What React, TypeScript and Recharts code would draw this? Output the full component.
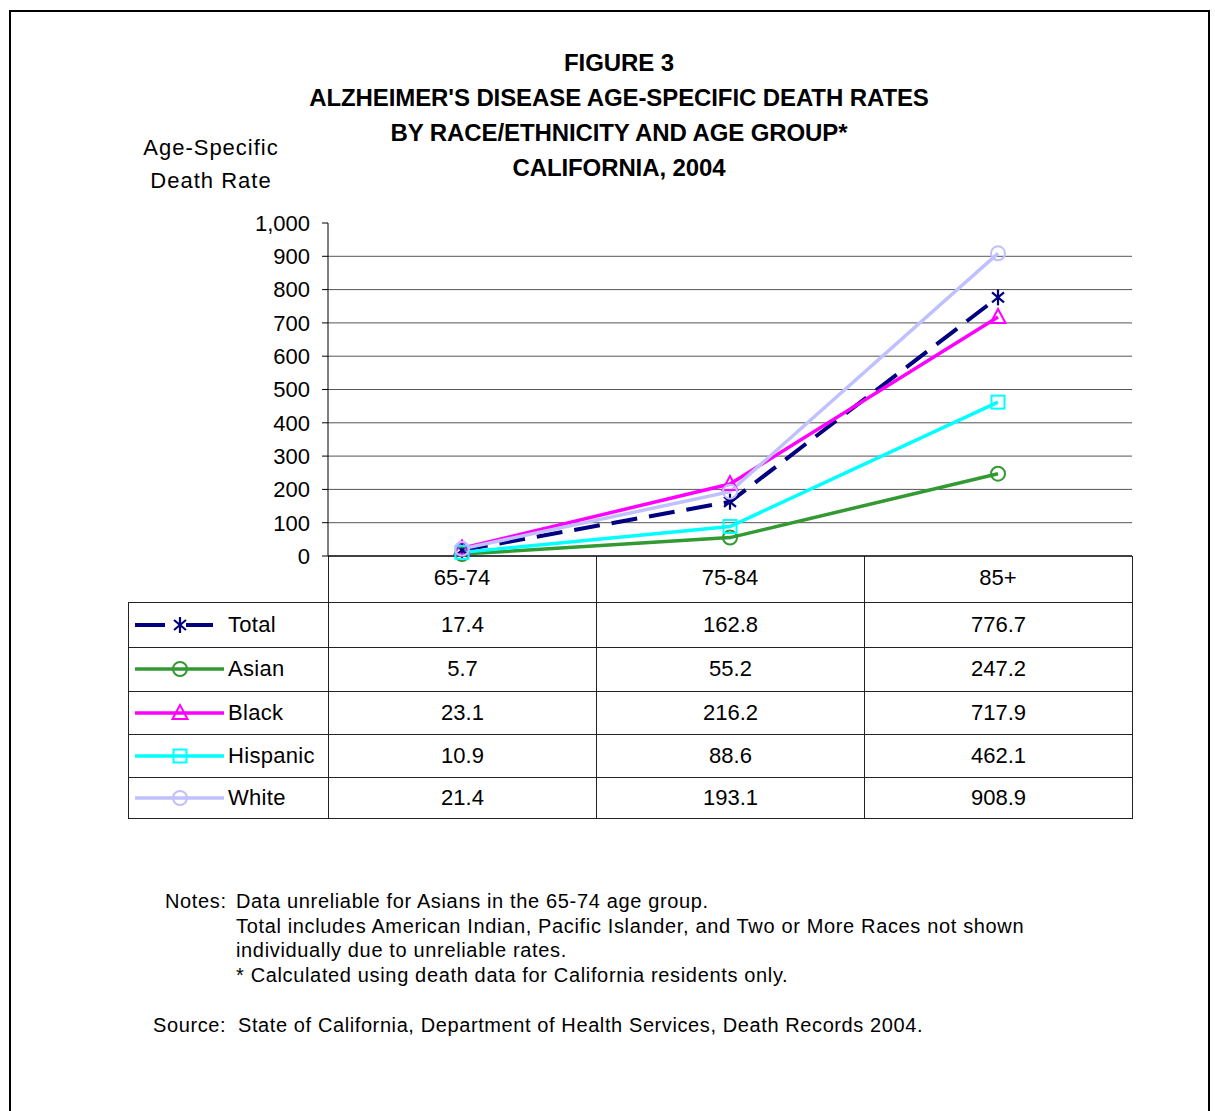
import React from 'react';
import { LineChart, Line, XAxis, YAxis, CartesianGrid } from 'recharts';

const categories = ['65-74', '75-84', '85+'];
const totalValues = [17.4, 162.8, 776.7];
const asianValues = [5.7, 55.2, 247.2];
const blackValues = [23.1, 216.2, 717.9];
const hispanicValues = [10.9, 88.6, 462.1];
const whiteValues = [21.4, 193.1, 908.9];
const yTicks = [0, 100, 200, 300, 400, 500, 600, 700, 800, 900, 1000];
const gridValues = [100, 200, 300, 400, 500, 600, 700, 800, 900];

const titleLines = [
  'FIGURE 3',
  "ALZHEIMER'S DISEASE AGE-SPECIFIC DEATH RATES",
  'BY RACE/ETHNICITY AND AGE GROUP*',
  'CALIFORNIA, 2004',
];
const yLabelLines = ['Age-Specific', 'Death Rate'];
const noteLines = [
  'Data unreliable for Asians in the 65-74 age group.',
  'Total includes American Indian, Pacific Islander, and Two or More Races not shown',
  'individually due to unreliable rates.',
  '* Calculated using death data for California residents only.',
];
const sourceText = 'State of California, Department of Health Services, Death Records 2004.';

type MarkerType = 'star' | 'circle' | 'triangle' | 'square';

const series: { key: string; values: number[]; color: string; dash?: string; width: number; marker: MarkerType }[] = [
  { key: 'Total', values: totalValues, color: '#000080', dash: '26 12', width: 4, marker: 'star' },
  { key: 'Asian', values: asianValues, color: '#339933', width: 3.5, marker: 'circle' },
  { key: 'Black', values: blackValues, color: '#FF00FF', width: 3.5, marker: 'triangle' },
  { key: 'Hispanic', values: hispanicValues, color: '#00FFFF', width: 3.5, marker: 'square' },
  { key: 'White', values: whiteValues, color: '#C0C0FF', width: 3.5, marker: 'circle' },
];

const data = categories.map((c, i) => {
  const row: Record<string, string | number> = { cat: c };
  series.forEach((s) => {
    row[s.key] = s.values[i];
  });
  return row;
});

const rowHeights = [45, 44, 43, 43, 41];

const FONT = '"Liberation Sans", Arial, Helvetica, sans-serif';

function Marker({ type, cx, cy, color }: { type: MarkerType; cx: number; cy: number; color: string }) {
  const sw = 2;
  if (type === 'star') {
    return (
      <g stroke={color} strokeWidth={2.2} fill="none">
        <line x1={cx} y1={cy - 8} x2={cx} y2={cy + 8} />
        <line x1={cx - 6} y1={cy - 5} x2={cx + 6} y2={cy + 5} />
        <line x1={cx + 6} y1={cy - 5} x2={cx - 6} y2={cy + 5} />
      </g>
    );
  }
  if (type === 'circle') {
    return <circle cx={cx} cy={cy} r={7} fill="none" stroke={color} strokeWidth={sw} />;
  }
  if (type === 'triangle') {
    return (
      <polygon
        points={`${cx},${cy - 8} ${cx - 7.5},${cy + 6} ${cx + 7.5},${cy + 6}`}
        fill="none"
        stroke={color}
        strokeWidth={sw}
      />
    );
  }
  return <rect x={cx - 6.5} y={cy - 6.5} width={13} height={13} fill="none" stroke={color} strokeWidth={sw} />;
}

function LegendIcon({ s }: { s: (typeof series)[number] }) {
  return (
    <svg width={92} height={22} style={{ display: 'block' }}>
      {s.dash ? (
        <>
          <line x1={2} y1={11} x2={32} y2={11} stroke={s.color} strokeWidth={s.width} />
          <line x1={53} y1={11} x2={80} y2={11} stroke={s.color} strokeWidth={s.width} />
        </>
      ) : (
        <line x1={2} y1={11} x2={91} y2={11} stroke={s.color} strokeWidth={s.width} />
      )}
      <Marker type={s.marker} cx={47} cy={11} color={s.color} />
    </svg>
  );
}

const border = '1px solid #222';

export default function App() {
  return (
    <div
      style={{
        position: 'absolute',
        left: 0,
        top: 0,
        width: 1215,
        height: 1111,
        overflow: 'hidden',
        background: '#fff',
        fontFamily: FONT,
        color: '#000',
      }}
    >
      <div
        style={{
          position: 'absolute',
          left: 9,
          top: 10,
          width: 1201,
          height: 1130,
          border: '2px solid #000',
          boxSizing: 'border-box',
        }}
      />
      {titleLines.map((t, i) => (
        <div
          key={t}
          style={{
            position: 'absolute',
            left: 0,
            width: 1238,
            top: 49 + i * 35,
            textAlign: 'center',
            fontWeight: 'bold',
            fontSize: 24,
            lineHeight: '28px',
            letterSpacing: -0.1,
            whiteSpace: 'nowrap',
          }}
        >
          {t}
        </div>
      ))}
      {yLabelLines.map((t, i) => (
        <div
          key={t}
          style={{
            position: 'absolute',
            left: 111,
            width: 200,
            top: 134 + i * 33,
            textAlign: 'center',
            fontSize: 22,
            lineHeight: '28px',
            letterSpacing: 1,
            whiteSpace: 'nowrap',
          }}
        >
          {t}
        </div>
      ))}

      <table
        style={{
          position: 'absolute',
          left: 128,
          top: 556,
          borderCollapse: 'collapse',
          tableLayout: 'fixed',
          width: 1005,
          fontSize: 22,
        }}
      >
        <colgroup>
          <col style={{ width: 200 }} />
          <col style={{ width: 268 }} />
          <col style={{ width: 268 }} />
          <col style={{ width: 268 }} />
        </colgroup>
        <tbody>
          <tr style={{ height: 46 }}>
            <td style={{ borderBottom: border, padding: 0 }} />
            {categories.map((c) => (
              <td key={c} style={{ borderLeft: border, borderRight: border, borderBottom: border, padding: 0 }} />
            ))}
          </tr>
          {series.map((s, ri) => (
            <tr key={s.key} style={{ height: rowHeights[ri] }}>
              <td style={{ border, padding: '0 0 0 4px' }}>
                <div style={{ display: 'flex', alignItems: 'center', gap: 3 }}>
                  <LegendIcon s={s} />
                  <span style={{ whiteSpace: 'nowrap', letterSpacing: 0.3 }}>{s.key}</span>
                </div>
              </td>
              {s.values.map((v, i) => (
                <td key={i} style={{ border, padding: 0, textAlign: 'center' }}>
                  {v.toFixed(1)}
                </td>
              ))}
            </tr>
          ))}
        </tbody>
      </table>

      <div style={{ position: 'absolute', left: 0, top: 0 }}>
        <LineChart
          width={1215}
          height={1111}
          data={data}
          margin={{ top: 223, right: 83, left: 268, bottom: 509 }}
        >
          <CartesianGrid
            vertical={false}
            horizontalValues={gridValues}
            stroke="#555"
            strokeWidth={1}
          />
          <XAxis
            dataKey="cat"
            scale="band"
            height={46}
            axisLine={{ stroke: '#000', strokeWidth: 1.5 }}
            tickLine={false}
            tickMargin={7}
            tick={{ fill: '#000', fontSize: 22, fontFamily: FONT }}
            interval={0}
          />
          <YAxis
            width={60}
            domain={[0, 1000]}
            ticks={yTicks}
            interval={0}
            tickFormatter={(v: number) => v.toLocaleString('en-US')}
            axisLine={{ stroke: '#000', strokeWidth: 1 }}
            tickLine={{ stroke: '#000' }}
            tickSize={6}
            tickMargin={12}
            tick={{ fill: '#000', fontSize: 22, fontFamily: FONT }}
          />
          {series.map((s) => (
            <Line
              key={s.key}
              dataKey={s.key}
              type="linear"
              stroke={s.color}
              strokeWidth={s.width}
              strokeDasharray={s.dash}
              isAnimationActive={false}
              dot={(p: any) => (
                <Marker key={`${s.key}-${p.index}`} type={s.marker} cx={p.cx} cy={p.cy} color={s.color} />
              )}
              activeDot={false}
            />
          ))}
        </LineChart>
      </div>

      <div
        style={{
          position: 'absolute',
          left: 165,
          top: 889,
          fontSize: 20,
          lineHeight: '24.6px',
          letterSpacing: 0.65,
          whiteSpace: 'nowrap',
        }}
      >
        <div style={{ display: 'flex' }}>
          <span style={{ width: 71, display: 'inline-block' }}>Notes:</span>
          <div>
            {noteLines.map((n) => (
              <div key={n}>{n}</div>
            ))}
          </div>
        </div>
      </div>
      <div
        style={{
          position: 'absolute',
          left: 153,
          top: 1013,
          fontSize: 20,
          lineHeight: '24.6px',
          letterSpacing: 0.6,
          whiteSpace: 'nowrap',
        }}
      >
        <span style={{ display: 'inline-block', width: 85 }}>Source:</span>
        {sourceText}
      </div>
    </div>
  );
}
